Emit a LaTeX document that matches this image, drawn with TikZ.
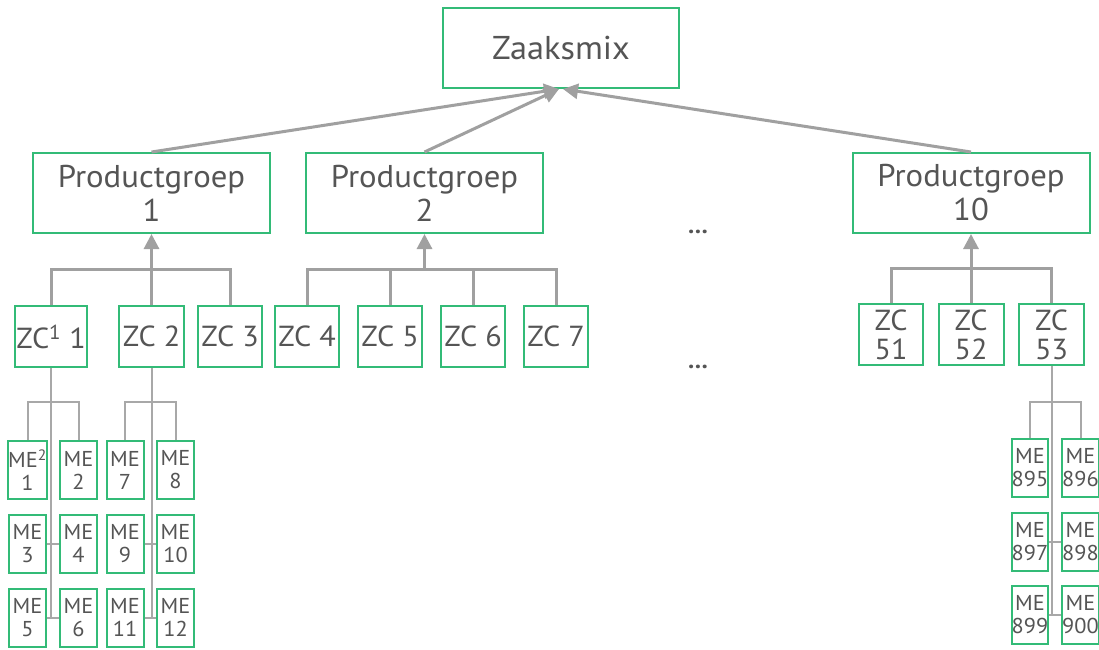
\documentclass[tikz,border=0pt]{standalone}
\usepackage{fontspec}
\setmainfont{PT Sans}[FakeStretch=1.04]
\usetikzlibrary{arrows.meta}
\definecolor{boxgreen}{HTML}{33BB77}
\definecolor{txtgray}{HTML}{555555}
\definecolor{conngray}{HTML}{A0A0A0}
\definecolor{megray}{HTML}{A8A8A8}
\begin{document}
\begin{tikzpicture}[x=1pt,y=-1pt,
  box/.style={draw=boxgreen,line width=2pt,fill=white,text=txtgray,inner sep=0pt,align=center},
  topbox/.style={box,minimum width=236pt,minimum height=80pt,font=\fontsize{33}{36}\selectfont},
  pgbox/.style={box,minimum width=237pt,minimum height=80pt,font=\fontsize{31.5}{34}\selectfont},
  zcbox/.style={box,minimum height=61pt,font=\fontsize{29}{29}\selectfont},
  mebox/.style={box,minimum width=37pt,minimum height=58pt,font=\fontsize{21.5}{23}\selectfont},
  connline/.style={draw=conngray,line width=3pt},
  arrline/.style={connline,-{Triangle[width=15pt,length=15pt]}},
  meline/.style={draw=megray,line width=2pt},
  dotstext/.style={text=txtgray,inner sep=0pt,font=\bfseries\fontsize{24}{24}\selectfont}]
\fill[white] (0,0) rectangle (1099,649);
\useasboundingbox (0,0) rectangle (1099,649);

% top
\node[topbox] (Z) at (561,48) {Zaaksmix};

% product groups
\node[pgbox] (PG1) at (151.5,193) {Productgroep\\1};
\node[pgbox] (PG2) at (424.5,193) {Productgroep\\2};
\node[pgbox] (PG10) at (971,193) {Productgroep\\10};

% ZC row
\node[zcbox,minimum width=72pt] (ZC1) at (51,336.5) {ZC\textsuperscript{1} 1};
\node[zcbox,minimum width=65pt] (ZC2) at (151.5,336.5) {ZC 2};
\node[zcbox,minimum width=64pt] (ZC3) at (230,336.5) {ZC 3};
\node[zcbox,minimum width=64pt] (ZC4) at (307,336.5) {ZC 4};
\node[zcbox,minimum width=64pt] (ZC5) at (390,336.5) {ZC 5};
\node[zcbox,minimum width=64pt] (ZC6) at (473,336.5) {ZC 6};
\node[zcbox,minimum width=64pt] (ZC7) at (556,336.5) {ZC 7};
\node[zcbox,minimum width=64pt] (ZC51) at (891,334.5) {ZC\\51};
\node[zcbox,minimum width=65pt] (ZC52) at (971,334.5) {ZC\\52};
\node[zcbox,minimum width=65pt] (ZC53) at (1051.5,334.5) {ZC\\53};

% ME boxes left
\node[mebox] (ME1) at (27.5,470) {ME\textsuperscript{2}\\1};
\node[mebox] (ME2) at (78.5,470) {ME\\2};
\node[mebox] (ME3) at (27.5,543.5) {ME\\3};
\node[mebox] (ME4) at (78.5,543.5) {ME\\4};
\node[mebox] (ME5) at (27.5,617.5) {ME\\5};
\node[mebox] (ME6) at (78.5,617.5) {ME\\6};
\node[mebox] (ME7) at (125,470) {ME\\7};
\node[mebox] (ME8) at (175.5,470) {ME\\8};
\node[mebox] (ME9) at (125,543.5) {ME\\9};
\node[mebox] (ME10) at (175.5,543.5) {ME\\10};
\node[mebox] (ME11) at (125,617.5) {ME\\11};
\node[mebox] (ME12) at (175.5,617.5) {ME\\12};

% ME boxes right
\node[mebox,minimum width=36pt] (ME895) at (1030,467.5) {ME\\895};
\node[mebox,minimum width=36pt] (ME896) at (1080.5,467.5) {ME\\896};
\node[mebox,minimum width=36pt] (ME897) at (1030,541.5) {ME\\897};
\node[mebox,minimum width=36pt] (ME898) at (1080.5,541.5) {ME\\898};
\node[mebox,minimum width=36pt] (ME899) at (1030,615) {ME\\899};
\node[mebox,minimum width=36pt] (ME900) at (1080.5,615) {ME\\900};

% ellipses
\node[dotstext] (E1) at (698,232) {…};
\node[dotstext] (E2) at (698,367) {…};

% arrows to top
\draw[arrline] (PG1.north) -- ([xshift=-2pt]Z.south);
\draw[arrline] (PG2.north) -- ([xshift=-2pt]Z.south);
\draw[arrline] (PG10.north) -- ([xshift=2pt]Z.south);

% buses ZC -> PG
\draw[connline] (ZC1.north) -- ++(0,-36) -| (ZC3.north);
\draw[arrline] (ZC2.north) -- (PG1.south);

\draw[connline] (ZC4.north) -- ++(0,-36) -| (ZC7.north);
\draw[connline] (ZC5.north) -- ++(0,-36);
\draw[connline] (ZC6.north) -- ++(0,-36);
\draw[arrline] (PG2.south |- ZC4.north) ++(0,-36) -- (PG2.south);

\draw[connline] (ZC51.north) -- ++(0,-35) -| (ZC53.north);
\draw[arrline] (ZC52.north) -- (PG10.south);

% ME connectors group ZC1
\draw[meline] (ZC1.south) -- (ZC1.south |- ME5.east);
\draw[meline] (ME1.north) -- ++(0,-38) -| (ME2.north);
\draw[meline] (ME3.east) -- (ME4.west);
\draw[meline] (ME5.east) -- (ME6.west);

% ME connectors group ZC2
\draw[meline] (ZC2.south) -- (ZC2.south |- ME11.east);
\draw[meline] (ME7.north) -- ++(0,-38) -| (ME8.north);
\draw[meline] (ME9.east) -- (ME10.west);
\draw[meline] (ME11.east) -- (ME12.west);

% ME connectors group ZC53
\draw[meline] (ZC53.south) -- (ZC53.south |- ME899.east);
\draw[meline] (ME895.north) -- ++(0,-36) -| (ME896.north);
\draw[meline] (ME897.east) -- (ME898.west);
\draw[meline] (ME899.east) -- (ME900.west);
\end{tikzpicture}
\end{document}
